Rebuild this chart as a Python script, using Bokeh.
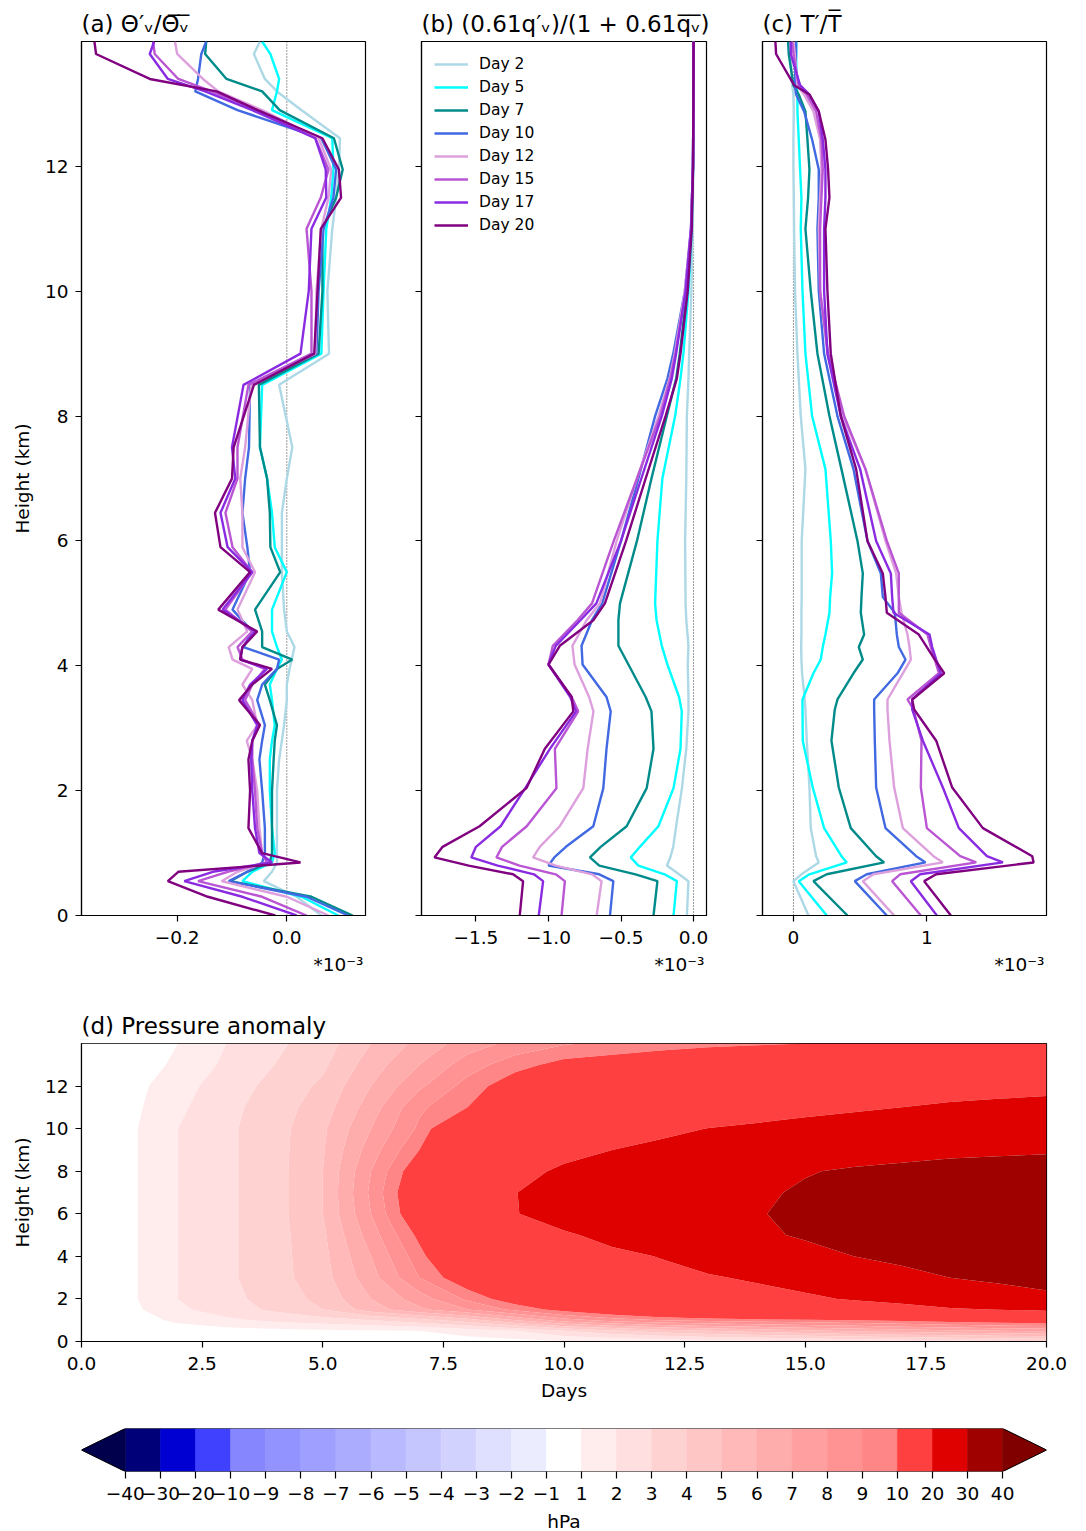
import numpy as np
from bokeh.plotting import figure
from bokeh.layouts import column, row
from bokeh.models import (Range1d, FixedTicker, Span, Legend, LegendItem, CustomJSTickFormatter,
                          LinearAxis)
from bokeh.embed import file_html
from bokeh.resources import INLINE

FONT = "DejaVu Sans"

DAY_LABELS = ["Day 2", "Day 5", "Day 7", "Day 10", "Day 12", "Day 15", "Day 17", "Day 20"]
DAY_COLORS = ["lightblue", "cyan", "darkcyan", "royalblue", "plum", "mediumorchid", "blueviolet", "purple"]
SCALE_TEXT = "*10\u207b\u00b3"

# ---------------- panel (a): theta_v' / theta_v  (x 1e-3)
HEIGHT_A = [0.0, 0.3, 0.55, 0.7, 0.85, 1.0, 1.4, 2.0, 2.5, 2.8, 3.05, 3.45, 3.7, 3.95, 4.1, 4.3, 4.55,
            4.9, 5.5, 5.9, 6.45, 7.0, 7.5, 8.5, 9.0, 10.0, 11.0, 11.5, 11.95, 12.45, 12.9, 13.2, 13.4, 13.8, 14.0]
THETA_D02 = [0.063, 0.018, -0.042, -0.027, -0.018, -0.018, -0.018, -0.018, -0.014, -0.009, -0.005, 0.0, 0.0, 0.005,
             0.009, 0.014, 0.0, -0.005, -0.009, -0.009, -0.009, 0.0, 0.010, -0.014, 0.077, 0.074, 0.083, 0.09, 0.095,
             0.097, 0.027, -0.018, -0.04, -0.06, -0.049]
THETA_D05 = [0.094, 0.027, -0.081, -0.063, -0.027, -0.022, -0.027, -0.031, -0.031, -0.027, -0.022, -0.027, -0.031,
             -0.018, -0.009, -0.018, -0.027, -0.027, 0.0, -0.022, -0.027, -0.036, -0.049, -0.045, 0.063, 0.067, 0.072,
             0.081, 0.085, 0.083, -0.027, -0.018, -0.014, -0.03, -0.045]
THETA_D07 = [0.12, 0.045, -0.103, -0.072, -0.031, -0.027, -0.027, -0.027, -0.024, -0.022, -0.018, -0.031, -0.04,
             -0.018, 0.010, -0.045, -0.045, -0.058, -0.012, -0.03, -0.031, -0.036, -0.049, -0.051, 0.058, 0.065, 0.065,
             0.09, 0.102, 0.086, -0.013, -0.045, -0.11, -0.149, -0.147]
THETA_D10 = [0.112, 0.036, -0.106, -0.072, -0.045, -0.04, -0.04, -0.045, -0.05, -0.045, -0.04, -0.054, -0.045, -0.018,
             -0.014, -0.079, -0.063, -0.099, -0.067, -0.072, -0.081, -0.076, -0.069, -0.067, 0.054, 0.058, 0.067, 0.085,
             0.09, 0.063, -0.09, -0.167, -0.162, -0.156, -0.147]
THETA_D12 = [0.076, 0.0, -0.119, -0.09, -0.036, -0.045, -0.05, -0.054, -0.063, -0.073, -0.054, -0.063, -0.081, -0.063,
             -0.099, -0.106, -0.072, -0.09, -0.058, -0.081, -0.081, -0.085, -0.076, -0.065, 0.052, 0.054, 0.063, 0.076,
             0.081, 0.058, -0.045, -0.125, -0.153, -0.2, -0.204]
THETA_D15 = [0.036, -0.045, -0.162, -0.108, -0.036, -0.045, -0.054, -0.058, -0.063, -0.063, -0.05, -0.076, -0.063,
             -0.04, -0.081, -0.09, -0.063, -0.112, -0.063, -0.099, -0.112, -0.09, -0.09, -0.07, 0.045, 0.045, 0.036,
             0.062, 0.076, 0.052, -0.054, -0.137, -0.198, -0.241, -0.244]
THETA_D17 = [0.018, -0.081, -0.187, -0.135, -0.027, -0.05, -0.058, -0.063, -0.065, -0.063, -0.054, -0.081, -0.067,
             -0.036, -0.085, -0.081, -0.058, -0.117, -0.063, -0.108, -0.121, -0.094, -0.1, -0.079, 0.025, 0.04, 0.045,
             0.072, 0.071, 0.052, -0.063, -0.149, -0.217, -0.25, -0.242]
THETA_D20 = [-0.021, -0.144, -0.217, -0.198, 0.025, -0.045, -0.07, -0.067, -0.07, -0.063, -0.049, -0.087, -0.063,
             -0.027, -0.085, -0.081, -0.054, -0.125, -0.067, -0.121, -0.131, -0.1, -0.097, -0.06, 0.05, 0.056, 0.062,
             0.099, 0.095, 0.065, -0.053, -0.128, -0.25, -0.348, -0.351]

# ---------------- panel (b): 0.61 qv' / (1 + 0.61 qv)  (x 1e-3)
HEIGHT_B = [0.0, 0.55, 0.66, 0.8, 0.93, 1.1, 1.43, 2.04, 2.67, 3.27, 3.5, 4.02, 4.32, 4.73, 5.0, 6.0, 7.0, 8.0,
            8.6, 9.0, 10.0, 11.0, 12.0, 13.0, 14.0]
QV_D02 = [-0.046, -0.035, -0.1, -0.184, -0.16, -0.14, -0.12, -0.08, -0.05, -0.035, -0.035, -0.04, -0.035, -0.05,
          -0.055, -0.058, -0.05, -0.046, -0.035, -0.03, -0.015, -0.006, -0.002, 0.0, 0.0]
QV_D05 = [-0.138, -0.115, -0.2, -0.38, -0.433, -0.37, -0.242, -0.138, -0.09, -0.081, -0.1, -0.18, -0.219, -0.255,
          -0.265, -0.249, -0.215, -0.127, -0.09, -0.07, -0.035, -0.012, -0.003, -0.001, 0.0]
QV_D07 = [-0.276, -0.249, -0.40, -0.65, -0.714, -0.64, -0.461, -0.323, -0.276, -0.29, -0.33, -0.449, -0.518, -0.518,
          -0.507, -0.39, -0.29, -0.184, -0.12, -0.095, -0.045, -0.015, -0.004, -0.001, 0.0]
QV_D10 = [-0.576, -0.553, -0.65, -1.0, -0.96, -0.88, -0.691, -0.622, -0.6, -0.571, -0.6, -0.765, -0.772, -0.70,
          -0.63, -0.50, -0.38, -0.265, -0.18, -0.14, -0.06, -0.018, -0.004, -0.001, 0.0]
QV_D12 = [-0.668, -0.634, -0.70, -0.95, -1.106, -1.06, -0.922, -0.76, -0.73, -0.69, -0.72, -0.82, -0.835, -0.737,
          -0.645, -0.53, -0.39, -0.242, -0.165, -0.13, -0.06, -0.018, -0.004, -0.001, 0.0]
QV_D15 = [-0.91, -0.887, -0.95, -1.2, -1.359, -1.32, -1.15, -0.945, -0.956, -0.795, -0.84, -1.0, -0.97, -0.80,
          -0.70, -0.55, -0.39, -0.23, -0.16, -0.125, -0.055, -0.017, -0.004, -0.001, 0.0]
QV_D17 = [-1.067, -1.037, -1.1, -1.35, -1.532, -1.5, -1.33, -1.16, -0.99, -0.81, -0.85, -1.0, -0.95, -0.78,
          -0.67, -0.50, -0.36, -0.219, -0.15, -0.12, -0.055, -0.017, -0.004, -0.001, 0.0]
QV_D20 = [-1.198, -1.175, -1.244, -1.55, -1.786, -1.73, -1.475, -1.152, -1.025, -0.829, -0.84, -1.0, -0.922, -0.691,
          -0.611, -0.465, -0.33, -0.193, -0.115, -0.09, -0.04, -0.012, -0.003, -0.001, 0.0]

# ---------------- panel (c): T' / T  (x 1e-3)
HEIGHT_C = [0.0, 0.55, 0.66, 0.85, 0.95, 1.4, 2.05, 2.8, 3.3, 3.46, 3.88, 4.1, 4.3, 4.5, 4.85, 5.1, 5.48, 6.0,
            7.15, 8.0, 9.0, 10.0, 11.0, 11.5, 11.95, 12.43, 12.88, 13.15, 13.3, 13.8, 14.0]
T_D02 = [0.113, 0.0, 0.06, 0.19, 0.17, 0.13, 0.12, 0.1, 0.09, 0.085, 0.065, 0.06, 0.058, 0.06, 0.06, 0.062, 0.062,
         0.062, 0.09, 0.055, 0.03, 0.012, 0.005, 0.003, 0.0, 0.0, 0.003, 0.0, -0.01, -0.02, -0.01]
T_D05 = [0.25, 0.04, 0.12, 0.40, 0.36, 0.23, 0.145, 0.07, 0.068, 0.068, 0.15, 0.205, 0.22, 0.24, 0.27, 0.275, 0.29,
         0.28, 0.24, 0.14, 0.09, 0.068, 0.055, 0.06, 0.05, 0.04, 0.03, 0.03, 0.025, 0.02, 0.022]
T_D07 = [0.405, 0.15, 0.25, 0.68, 0.62, 0.43, 0.34, 0.285, 0.31, 0.33, 0.45, 0.52, 0.49, 0.53, 0.505, 0.51, 0.52,
         0.48, 0.36, 0.27, 0.18, 0.13, 0.09, 0.11, 0.12, 0.105, 0.09, 0.04, 0.0, -0.035, -0.04]
T_D10 = [0.70, 0.46, 0.55, 0.99, 0.92, 0.69, 0.62, 0.61, 0.605, 0.605, 0.78, 0.84, 0.79, 0.775, 0.76, 0.67, 0.655,
         0.555, 0.45, 0.33, 0.23, 0.19, 0.18, 0.19, 0.19, 0.14, 0.08, 0.02, 0.01, 0.02, 0.02]
T_D12 = [0.755, 0.52, 0.6, 1.12, 1.05, 0.82, 0.755, 0.72, 0.705, 0.705, 0.82, 0.88, 0.87, 0.855, 0.81, 0.79, 0.77,
         0.69, 0.54, 0.37, 0.255, 0.2, 0.19, 0.2, 0.21, 0.2, 0.15, 0.08, 0.03, 0.01, 0.0]
T_D15 = [0.955, 0.74, 0.8, 1.37, 1.25, 1.0, 0.955, 0.96, 0.9, 0.855, 1.09, 1.06, 1.03, 1.005, 0.79, 0.79, 0.79,
         0.7, 0.54, 0.38, 0.26, 0.2, 0.2, 0.21, 0.22, 0.21, 0.17, 0.1, 0.04, 0.0, -0.01]
T_D17 = [1.075, 0.88, 0.95, 1.57, 1.45, 1.24, 1.12, 0.97, 0.89, 0.89, 1.105, 1.07, 1.04, 1.02, 0.75, 0.74, 0.73,
         0.62, 0.5, 0.355, 0.255, 0.23, 0.23, 0.24, 0.24, 0.22, 0.19, 0.12, 0.05, -0.02, -0.02]
T_D20 = [1.18, 0.98, 1.07, 1.80, 1.79, 1.42, 1.19, 1.07, 0.905, 0.89, 1.13, 1.06, 1.0, 0.94, 0.70, 0.69, 0.67,
         0.555, 0.47, 0.355, 0.28, 0.255, 0.24, 0.27, 0.26, 0.24, 0.19, 0.12, 0.005, -0.13, -0.135]

# ---------------- panel (d): pressure anomaly (hPa), rows = heights, cols = days
DAYS_D = [0, 1, 2, 3, 4, 5, 6, 7, 8, 9, 10, 11, 12, 13, 14, 15, 16, 17, 18, 19, 20]
HEIGHT_D = [0, 0.5, 1, 1.5, 2, 3, 4, 5, 6, 7, 8, 9, 10, 11, 12, 13, 14]
PRESSURE_HPA = [
    [0, 0, 0.2, 0.2, 0.2, 0.2, 0.3, 0.4, 0.5, 0.7, 0.9, 1.1, 1.3, 1.5, 1.7, 1.9, 2.1, 2.3, 2.5, 2.7, 2.9],
    [0, 0.2, 0.5, 0.6, 0.7, 0.8, 0.9, 1.0, 1.5, 2.0, 3.0, 3.8, 4.5, 5.0, 5.4, 5.8, 6.2, 6.5, 6.8, 7.0, 7.2],
    [0, 0.5, 1.2, 1.8, 2.2, 2.6, 3.0, 3.6, 4.5, 6.0, 7.5, 8.4, 9.0, 9.3, 9.6, 9.8, 10.0, 10.3, 10.6, 10.9, 11.2],
    [0, 0.7, 1.8, 2.5, 3.2, 4.0, 5.5, 6.8, 8.0, 9.3, 10.5, 11.5, 12.5, 13.5, 14.5, 15.5, 16.5, 17.5, 19.3, 20.2, 21.0],
    [0, 0.8, 2.0, 2.7, 3.4, 4.3, 6.0, 7.5, 9.2, 10.8, 12.5, 14.0, 15.5, 16.8, 18.0, 19.0, 20.5, 22.0, 24.0, 26.0, 28.0],
    [0, 0.8, 2.0, 2.8, 3.6, 4.6, 6.6, 9.0, 11.0, 13.5, 15.5, 17.0, 18.5, 19.5, 20.7, 22.5, 25.0, 27.5, 30.0, 31.5, 33.0],
    [0, 0.8, 2.0, 2.8, 3.6, 4.7, 7.0, 9.6, 12.5, 15.5, 18.0, 18.8, 20.2, 22.5, 24.5, 27.0, 30.0, 32.0, 33.5, 34.5, 35.5],
    [0, 0.8, 2.0, 2.8, 3.6, 4.8, 7.5, 10.3, 14.0, 17.5, 19.3, 21.5, 23.5, 25.0, 28.5, 31.0, 33.0, 34.5, 35.5, 36.5, 37.5],
    [0, 0.8, 2.0, 2.8, 3.6, 5.0, 8.0, 11.3, 15.0, 19.8, 22.5, 24.0, 25.5, 27.0, 29.6, 31.5, 33.5, 35.0, 36.0, 37.0, 38.0],
    [0, 0.8, 2.0, 2.8, 3.6, 5.0, 8.2, 11.5, 15.2, 19.9, 22.5, 24.0, 25.5, 27.0, 28.8, 31.0, 33.0, 34.5, 35.5, 36.5, 37.0],
    [0, 0.8, 2.0, 2.8, 3.6, 5.0, 8.0, 11.0, 14.5, 18.5, 20.8, 22.0, 23.5, 25.0, 26.5, 29.5, 31.0, 32.0, 33.0, 33.5, 34.0],
    [0, 0.8, 2.0, 2.8, 3.6, 4.9, 7.5, 10.0, 13.5, 16.5, 18.5, 20.0, 21.0, 22.0, 23.0, 24.5, 26.0, 27.0, 28.0, 28.5, 29.0],
    [0, 0.8, 2.0, 2.8, 3.6, 4.8, 7.0, 9.2, 12.5, 15.0, 16.5, 17.5, 19.0, 20.1, 20.8, 21.5, 22.0, 22.5, 23.0, 23.5, 24.0],
    [0, 0.7, 1.8, 2.7, 3.5, 4.5, 6.5, 8.8, 10.0, 12.0, 14.0, 15.0, 16.0, 17.0, 17.8, 18.7, 19.4, 20.0, 20.6, 21.0, 21.4],
    [0, 0.6, 1.6, 2.5, 3.3, 4.2, 6.0, 7.8, 9.4, 10.8, 12.5, 13.3, 14.0, 14.8, 15.6, 16.5, 17.3, 17.8, 18.2, 18.5, 18.8],
    [0, 0.4, 1.2, 2.2, 3.0, 3.8, 5.5, 7.0, 8.5, 9.6, 10.4, 10.7, 11.0, 11.4, 11.8, 12.4, 13.0, 13.6, 14.1, 14.6, 15.0],
    [0, 0.3, 1.0, 2.0, 2.8, 3.5, 5.0, 6.3, 7.5, 8.3, 8.9, 9.2, 9.5, 9.7, 9.85, 10.0, 10.3, 10.6, 10.9, 11.2, 11.5],
]
LEVELS = [-40, -30, -20, -10, -9, -8, -7, -6, -5, -4, -3, -2, -1, 1, 2, 3, 4, 5, 6, 7, 8, 9, 10, 20, 30, 40]
VMIN, VMAX = -40, 40

HEIGHT_TICKS = [0, 2, 4, 6, 8, 10, 12]


def seismic(t):
    t = min(max(t, 0.0), 1.0)
    st = [0.0, 0.25, 0.5, 0.75, 1.0]
    r = np.interp(t, st, [0.0, 0.0, 1.0, 1.0, 0.5])
    g = np.interp(t, st, [0.0, 0.0, 1.0, 0.0, 0.0])
    b = np.interp(t, st, [0.3, 1.0, 1.0, 0.0, 0.0])
    return "#%02x%02x%02x" % (int(round(r * 255)), int(round(g * 255)), int(round(b * 255)))


INTERVAL_COLORS = [seismic(((LEVELS[i] + LEVELS[i + 1]) / 2 - VMIN) / (VMAX - VMIN)) for i in range(len(LEVELS) - 1)]
UNDER_COLOR = seismic(0.0)
OVER_COLOR = seismic(1.0)


def fmt(decimals):
    return CustomJSTickFormatter(code="return tick.toFixed(%d).replace('-', '\\u2212');" % decimals)


def style(p):
    p.xgrid.visible = False
    p.ygrid.visible = False
    p.outline_line_color = "black"
    p.outline_line_width = 1.2
    p.outline_line_alpha = 1.0
    for ax in p.axis:
        ax.axis_line_color = "black"
        ax.axis_line_width = 1.2
        ax.major_tick_line_color = "black"
        ax.major_tick_line_width = 1.2
        ax.major_tick_in = 0
        ax.major_tick_out = 6
        ax.minor_tick_line_color = None
        ax.major_label_text_font = FONT
        ax.major_label_text_font_size = "18.5px"
        ax.major_label_text_color = "black"
        ax.axis_label_text_font = FONT
        ax.axis_label_text_font_size = "18.5px"
        ax.axis_label_text_font_style = "normal"
        ax.axis_label_text_color = "black"
    for ax in p.xaxis:
        ax.major_label_standoff = 9
        ax.axis_label_standoff = 7
    for ax in p.yaxis:
        ax.major_label_standoff = 7
        ax.axis_label_standoff = 9
    p.title.text_font = FONT
    p.title.text_font_size = "23px"
    p.title.text_font_style = "normal"
    p.title.text_color = "black"
    p.title.align = "left"
    p.title.standoff = 10


def profile(title, heights, series, frame_w, bl, br, xticks, decimals, show_ylab):
    allv = [v for s in series for v in s]
    lo, hi = min(allv), max(allv)
    pad = 0.05 * (hi - lo)
    x0, x1 = lo - pad, hi + pad
    p = figure(frame_width=frame_w, frame_height=874, x_range=Range1d(x0, x1),
               y_range=Range1d(0, 14), toolbar_location=None, output_backend="svg",
               min_border_left=bl, min_border_right=br, min_border_top=41, min_border_bottom=74,
               title=title)
    zero = Span(location=0, dimension="height", line_color="black", line_dash="1 2",
                line_width=0.8, level="underlay")
    p.add_layout(zero)
    rends = []
    for s, c in zip(series, DAY_COLORS):
        rends.append(p.line(s, heights, line_color=c, line_width=2.4))
    style(p)
    p.xaxis.ticker = FixedTicker(ticks=xticks)
    p.xaxis.formatter = fmt(decimals)
    p.yaxis.ticker = FixedTicker(ticks=HEIGHT_TICKS)
    if show_ylab:
        p.yaxis.formatter = fmt(0)
        p.yaxis.axis_label = "Height (km)"
    else:
        p.yaxis.formatter = CustomJSTickFormatter(code="return '';")
        p.yaxis.major_label_standoff = 0
    # scale-factor text, right-aligned under the x axis (an extra tick-less axis)
    xpos = x1 - 27.0 * (x1 - x0) / frame_w
    sax = LinearAxis(ticker=FixedTicker(ticks=[xpos]),
                     formatter=CustomJSTickFormatter(args=dict(t=SCALE_TEXT), code="return t;"),
                     axis_line_color=None, major_tick_line_color=None, minor_tick_line_color=None,
                     major_tick_in=0, major_tick_out=0, major_label_standoff=7,
                     major_label_text_font=FONT, major_label_text_font_size="18.5px",
                     major_label_text_color="black")
    p.add_layout(sax, "below")
    return p, rends


pa, _ = profile("(a) \u0398\u2032\u1d65/\u0398\u0305\u1d65\u0305", HEIGHT_A,
                [THETA_D02, THETA_D05, THETA_D07, THETA_D10, THETA_D12, THETA_D15, THETA_D17, THETA_D20],
                284, 81, 28, [-0.2, 0.0], 1, True)
pb, rb = profile("(b) (0.61q\u2032\u1d65)/(1 + 0.61q\u0305\u1d65\u0305)", HEIGHT_B,
                 [QV_D02, QV_D05, QV_D07, QV_D10, QV_D12, QV_D15, QV_D17, QV_D20],
                 285, 28, 28, [-1.5, -1.0, -0.5, 0.0], 1, False)
pc, _ = profile("(c) T\u2032/T\u0305", HEIGHT_C,
                [T_D02, T_D05, T_D07, T_D10, T_D12, T_D15, T_D17, T_D20],
                284, 28, 24, [0, 1], 0, False)

legend = Legend(items=[LegendItem(label=l, renderers=[r]) for l, r in zip(DAY_LABELS, rb)],
                location="top_left", border_line_color=None, background_fill_alpha=0.0,
                label_text_font=FONT, label_text_font_size="15.5px", label_text_color="black",
                glyph_width=34, glyph_height=20, label_height=20, spacing=3, label_standoff=11,
                margin=13, padding=8)
pb.add_layout(legend)

# ---------------- panel (d)
pdp = figure(frame_width=965, frame_height=298, x_range=Range1d(0, 20), y_range=Range1d(0, 14),
             toolbar_location=None, output_backend="svg", min_border_left=81, min_border_right=24,
             min_border_top=54, min_border_bottom=74, title="(d) Pressure anomaly")
ext_levels = [-1000] + LEVELS + [1000]
fills = [UNDER_COLOR] + INTERVAL_COLORS + [OVER_COLOR]
cr = pdp.contour(x=DAYS_D, y=HEIGHT_D, z=np.array(PRESSURE_HPA, dtype=float), levels=ext_levels,
                 fill_color=fills, line_color=None)
try:
    g = cr.fill_renderer.glyph
    g.line_color = g.fill_color
    g.line_width = 0.8
except Exception:
    pass
style(pdp)
pdp.xaxis.ticker = FixedTicker(ticks=[0, 2.5, 5, 7.5, 10, 12.5, 15, 17.5, 20])
pdp.xaxis.formatter = fmt(1)
pdp.yaxis.ticker = FixedTicker(ticks=HEIGHT_TICKS)
pdp.yaxis.formatter = fmt(0)
pdp.xaxis.axis_label = "Days"
pdp.yaxis.axis_label = "Height (km)"

# ---------------- colorbar
n = len(LEVELS)
ext = 0.05 * (n - 1)
cb = figure(frame_width=965, frame_height=43, x_range=Range1d(-ext, n - 1 + ext), y_range=Range1d(0, 1),
            toolbar_location=None, output_backend="svg", min_border_left=81, min_border_right=24,
            min_border_top=13, min_border_bottom=58)
idx = list(range(n))
cb.quad(left=idx[:-1], right=idx[1:], bottom=0, top=1, fill_color=INTERVAL_COLORS,
        line_color=INTERVAL_COLORS, line_width=0.6)
cb.patch([-ext, 0, 0], [0.5, 0, 1], fill_color=UNDER_COLOR, line_color=UNDER_COLOR, line_width=0.6)
cb.patch([n - 1, n - 1 + ext, n - 1], [0, 0.5, 1], fill_color=OVER_COLOR, line_color=OVER_COLOR, line_width=0.6)
cb.patch([-ext, 0, n - 1, n - 1 + ext, n - 1, 0], [0.5, 1, 1, 0.5, 0, 0], fill_color=None,
         line_color="black", line_width=1.0)
style(cb)
cb.outline_line_color = None
cb.yaxis.visible = False
cb.xaxis.axis_line_color = None
cb.xaxis.ticker = FixedTicker(ticks=idx)
cb.xaxis.major_tick_out = 7
cb.xaxis.major_label_standoff = 8
cb.xaxis.formatter = CustomJSTickFormatter(args=dict(labels=[str(v).replace("-", "\u2212") for v in LEVELS]),
                                           code="return labels[Math.round(tick)];")
cb.xaxis.axis_label = "hPa"
cb.xaxis.axis_label_standoff = 8

layout = column(row(pa, pb, pc), pdp, cb)
open("out.html", "w").write(file_html(layout, INLINE, "plot"))
